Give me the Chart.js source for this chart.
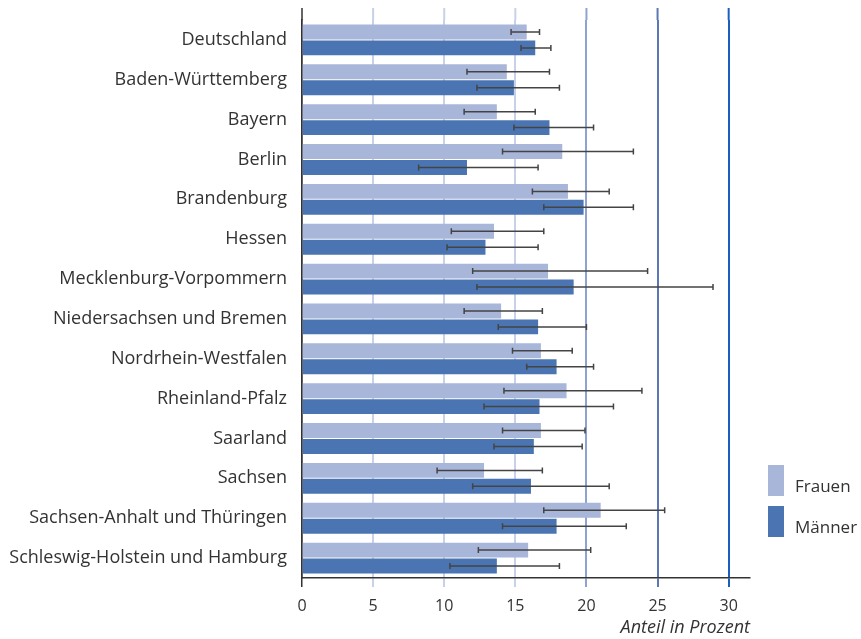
<!DOCTYPE html>
<html>
<head>
<meta charset="utf-8">
<script src="https://cdn.jsdelivr.net/npm/chart.js@4"></script>
<style>
html,body{margin:0;padding:0;background:#fff;}
#wrap{width:861px;height:639px;position:relative;}
</style>
</head>
<body>
<div id="wrap"><canvas id="c" width="861" height="639"></canvas></div>
<script>
const categories = ["Deutschland","Baden-Württemberg","Bayern","Berlin","Brandenburg","Hessen","Mecklenburg-Vorpommern","Niedersachsen und Bremen","Nordrhein-Westfalen","Rheinland-Pfalz","Saarland","Sachsen","Sachsen-Anhalt und Thüringen","Schleswig-Holstein und Hamburg"];
const frauen      = [15.8,14.4,13.7,18.3,18.7,13.5,17.3,14.0,16.8,18.6,16.8,12.8,21.0,15.9];
const frauenLow   = [14.7,11.6,11.4,14.1,16.2,10.5,12.0,11.4,14.8,14.2,14.1, 9.5,17.0,12.4];
const frauenHigh  = [16.7,17.4,16.4,23.3,21.6,17.0,24.3,16.9,19.0,23.9,19.9,16.9,25.5,20.3];
const maenner     = [16.4,14.9,17.4,11.6,19.8,12.9,19.1,16.6,17.9,16.7,16.3,16.1,17.9,13.7];
const maennerLow  = [15.4,12.3,14.9, 8.2,17.0,10.2,12.3,13.8,15.8,12.8,13.5,12.0,14.1,10.4];
const maennerHigh = [17.5,18.1,20.5,16.6,23.3,16.6,28.9,20.0,20.5,21.9,19.7,21.6,22.8,18.1];
const xTicks = [0,5,10,15,20,25,30];
const seriesNames = ["Frauen","Männer"];
const seriesColors = ["#A8B6D9","#4A74B2"];

const FONT = "'Open Sans', 'DejaVu Sans', sans-serif";
const TEXT = "#333333";

function gridColor(v){
  if (v === 0) return "#333333";
  if (v === 20) return "#8FA3D3";
  if (v === 25) return "#5C77B6";
  if (v === 30) return "#1A5FBE";
  return "#C7D1EA";
}

const errorBars = {
  id: 'errorBars',
  afterDatasetsDraw(chart){
    const ctx = chart.ctx;
    const xs = chart.scales.x;
    const lows = [frauenLow, maennerLow];
    const highs = [frauenHigh, maennerHigh];
    ctx.save();
    ctx.strokeStyle = "#444444";
    ctx.lineWidth = 1.5;
    chart.data.datasets.forEach((ds, di) => {
      const meta = chart.getDatasetMeta(di);
      meta.data.forEach((bar, i) => {
        const y = bar.y;
        const x1 = xs.getPixelForValue(lows[di][i]);
        const x2 = xs.getPixelForValue(highs[di][i]);
        ctx.beginPath();
        ctx.moveTo(x1, y); ctx.lineTo(x2, y);
        ctx.moveTo(x1, y - 3); ctx.lineTo(x1, y + 3);
        ctx.moveTo(x2, y - 3); ctx.lineTo(x2, y + 3);
        ctx.stroke();
      });
    });
    ctx.restore();
  }
};

const extras = {
  id: 'extras',
  beforeDatasetsDraw(chart){
    const ctx = chart.ctx;
    const xs = chart.scales.x;
    const top = chart.chartArea.top;
    ctx.save();
    xTicks.forEach(v => {
      const x = xs.getPixelForValue(v);
      ctx.strokeStyle = gridColor(v);
      ctx.lineWidth = v === 0 ? 1.5 : 2;
      ctx.beginPath();
      ctx.moveTo(x, 8); ctx.lineTo(x, top);
      ctx.stroke();
    });
    ctx.restore();
  },
  afterDraw(chart){
    const ctx = chart.ctx;
    ctx.save();
    const ys = [465, 506];
    seriesNames.forEach((n, i) => {
      ctx.fillStyle = seriesColors[i];
      ctx.fillRect(768, ys[i], 16, 31);
      ctx.fillStyle = TEXT;
      ctx.font = "17px " + FONT;
      ctx.textBaseline = "alphabetic";
      ctx.textAlign = "left";
      ctx.fillText(n, 795, ys[i] + 27);
    });
    ctx.restore();
  }
};

new Chart(document.getElementById('c'), {
  type: 'bar',
  data: {
    labels: categories,
    datasets: [
      { label: seriesNames[0], data: frauen, backgroundColor: seriesColors[0], categoryPercentage: 0.8, barPercentage: 0.9375 },
      { label: seriesNames[1], data: maenner, backgroundColor: seriesColors[1], categoryPercentage: 0.8, barPercentage: 0.9375 }
    ]
  },
  options: {
    indexAxis: 'y',
    responsive: false,
    animation: false,
    devicePixelRatio: 1,
    layout: { padding: { top: 20, right: 111, left: 0, bottom: 0 } },
    plugins: { legend: { display: false }, tooltip: { enabled: false } },
    scales: {
      x: {
        type: 'linear',
        min: 0, max: 31.5,
        afterBuildTicks(scale){ scale.ticks = xTicks.map(v => ({ value: v })); },
        afterFit(scale){ scale.height = 61; scale.paddingLeft = 0; scale.paddingRight = 0; },
        grid: {
          color: ctx => gridColor(ctx.tick ? ctx.tick.value : 0),
          lineWidth: ctx => (ctx.tick && ctx.tick.value === 0) ? 1.5 : 2,
          tickLength: 9,
          drawTicks: true
        },
        border: { display: true, color: "#333333", width: 1.5 },
        ticks: { color: TEXT, font: { family: FONT, size: 16 }, padding: 10 },
        title: { display: true, text: "Anteil in Prozent", align: 'end', color: TEXT,
                 font: { family: FONT, size: 18, style: 'italic' }, padding: { top: 0, bottom: 0 } }
      },
      y: {
        afterFit(scale){ scale.width = 302; scale.paddingTop = 0; scale.paddingBottom = 0; },
        grid: { display: false, drawTicks: false },
        border: { display: true, color: "#333333", width: 1.5 },
        ticks: { color: TEXT, font: { family: FONT, size: 18 }, padding: 15, autoSkip: false }
      }
    }
  },
  plugins: [errorBars, extras]
});
</script>
</body>
</html>
